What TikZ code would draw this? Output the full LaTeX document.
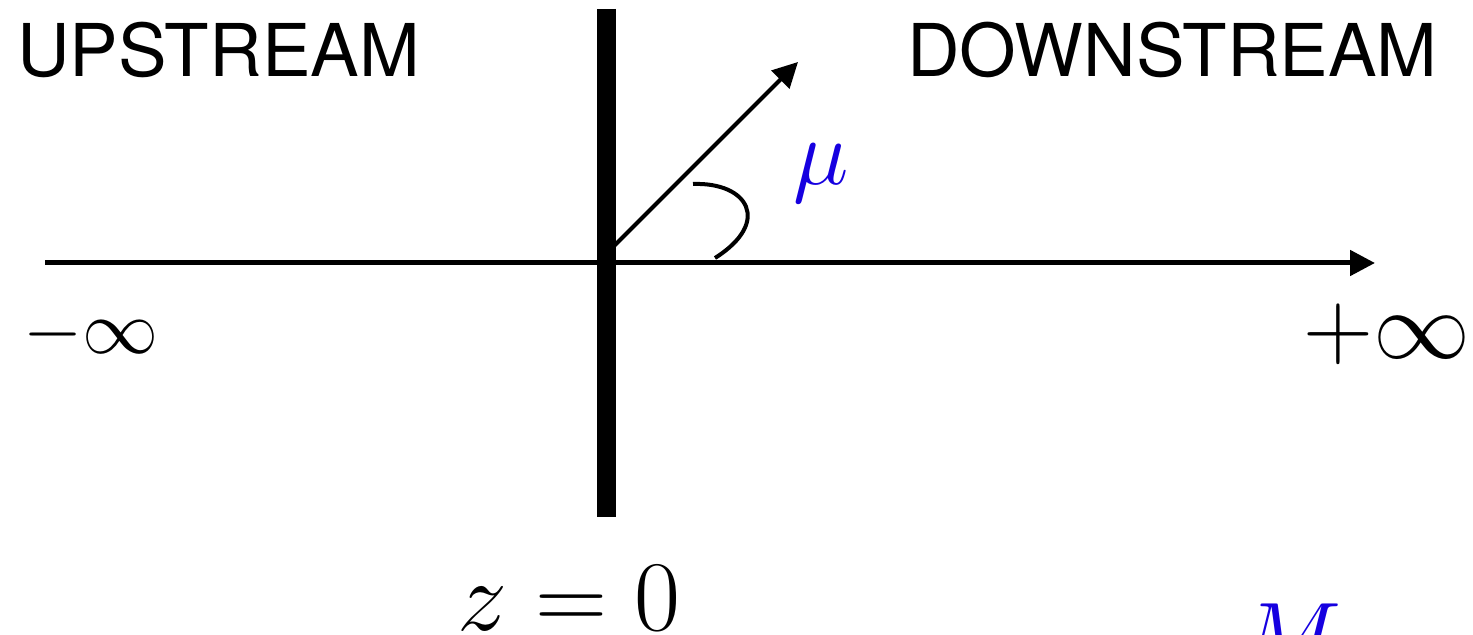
\RequirePackage{fix-cm}
\documentclass[tikz,border=0pt]{standalone}
\usepackage{fontspec}
\newfontfamily\heros{TeX Gyre Heros}
\usetikzlibrary{arrows.meta}
\definecolor{mublue}{RGB}{22,0,224}
\begin{document}
\begin{tikzpicture}[x=0.5pt,y=-0.5pt,
  axis/.style={line width=2.5pt,-{Triangle[length=12.5pt,width=12.5pt]}},
  ray/.style={line width=2pt,-{Triangle[length=12.5pt,width=12.5pt]}},
  angarc/.style={line width=2pt},
  wall/.style={line width=9.5pt},
  word/.style={inner sep=0pt,anchor=base west,font=\heros\fontsize{36.4}{40}\selectfont},
  lbl/.style={inner sep=0pt,anchor=base west}]
\useasboundingbox (0,0) rectangle (1473,635);
\clip (0,0) rectangle (1473,635);
\coordinate (left) at (45,263);
\coordinate (right) at (1375,263);
\coordinate (o) at (606.5,253.5);
\coordinate (tip) at (798,62);
\coordinate (arcA) at (693,184);
\coordinate (arcB) at (715,258);
\coordinate (bartop) at (606.5,9);
\coordinate (barbot) at (606.5,517);
\draw[axis] (left) -- (right);
\draw[ray] (o) -- (tip);
\draw[angarc] (arcA) .. controls (748,182) and (772,222) .. (arcB);
\draw[wall] (bartop) -- (barbot);
\node[word] (up) at (17,77) {UPSTREAM};
\node[word] (down) at (907,77) {DOWNSTREAM};
\node[lbl,font=\fontsize{38}{42}\selectfont] (minf) at (23,354) {$-\infty$};
\node[lbl,font=\fontsize{48.5}{52}\selectfont] (pinf) at (1303,359) {$+\infty$};
\node[lbl,font=\fontsize{50}{54}\selectfont] (z0) at (457,631) {$z=0$};
\node[lbl,font=\fontsize{47}{52}\selectfont,text=mublue] (mu) at (793,185) {$\mu$};
\node[lbl,font=\fontsize{48}{52}\selectfont,text=mublue] (M) at (1240,670) {$M$};
\end{tikzpicture}
\end{document}
